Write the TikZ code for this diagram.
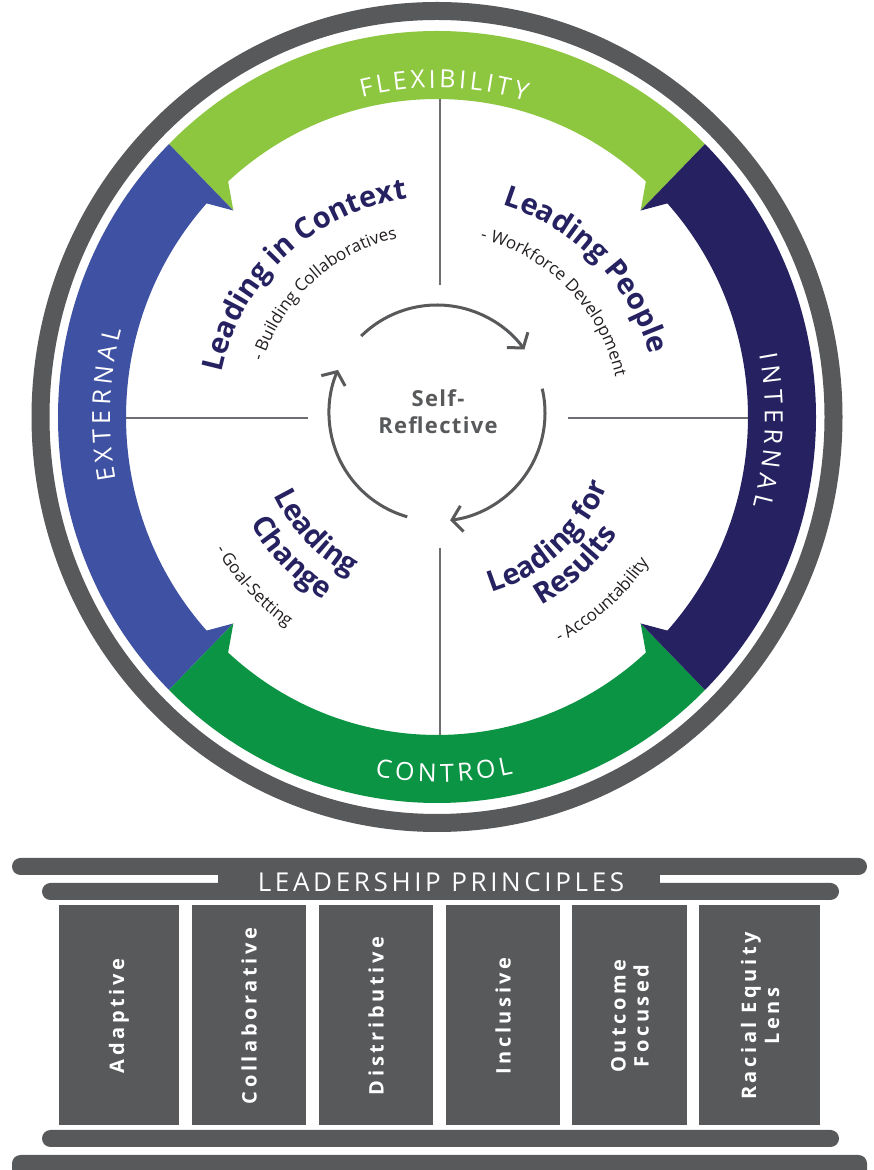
\documentclass[tikz,border=0pt]{standalone}
\usepackage{fontspec}
\setmainfont{Open Sans}
\newfontfamily\osans{Open Sans}
\newfontfamily\osanscol{Open Sans}[LetterSpace=18]
\newfontfamily\osanshead{Open Sans}[LetterSpace=14]
\newfontfamily\osansself{Open Sans}[LetterSpace=6]
\usetikzlibrary{decorations.text,arrows.meta,calc}
\definecolor{lgreen}{HTML}{8DC63F}
\definecolor{dgreen}{HTML}{0B9444}
\definecolor{mblue}{HTML}{3F51A2}
\definecolor{navy}{HTML}{262262}
\definecolor{dgrey}{HTML}{58595B}
\definecolor{lgrey}{HTML}{6D6E71}
\definecolor{subcol}{HTML}{231F20}
\newcommand\bandfont{\osans\fontsize{25}{25}\selectfont}
\newcommand\titlefont{\osans\bfseries\fontsize{29}{29}\selectfont}
\newcommand\subfont{\osans\fontsize{17}{17}\selectfont}
\newcommand{\qband}[3]{%
  \pgfmathsetmacro\qA{#1+2.8}\pgfmathsetmacro\qB{#2-2.8}%
  \fill[#3] ($(C)+(#1:379pt and 386pt)$) arc[start angle=#1,end angle=#2,x radius=379pt,y radius=386pt]
   -- ($(C)+(#2:288pt and 292pt)$) -- ($(C)+(\qB:311pt and 318pt)$)
   arc[start angle=\qB,end angle=\qA,x radius=311pt,y radius=318pt]
   -- ($(C)+(#1:288pt and 292pt)$) -- cycle;}
\tikzset{
  quadline/.style={draw=lgrey,line width=1.6pt},
  cyclearrow/.style={draw=dgrey,line width=3pt,-{Straight Barb[length=10pt,width=26pt]}},
  bar/.style={fill=dgrey,rounded corners=8.5pt},
  column/.style={fill=dgrey},
  coltext/.style={text=white,rotate=90,align=center,font=\osanscol\bfseries\fontsize{20}{23}\selectfont}
}
\begin{document}
\begin{tikzpicture}[x=1pt,y=1pt]
\useasboundingbox (0,0) rectangle (873,1170);
\clip (0,0) rectangle (873,1170);
\fill[white] (0,0) rectangle (873,1170);
\coordinate (C) at (437,753);
\coordinate (S) at (437,757);
% outer grey ring
\draw[dgrey,line width=18pt] (C) ellipse [x radius=396.5pt,y radius=406pt];
% coloured bands
\qband{45}{135}{lgreen}
\qband{135}{225}{mblue}
\qband{225}{315}{dgreen}
\qband{-45}{45}{navy}
% band labels
\path[decorate,decoration={text along path,text align=fit to path,text color=white,
  text={|\bandfont|FLEXIBILITY}}]
  ($(C)+(103.5:322pt and 329pt)$) arc[start angle=103.5,end angle=74,x radius=322pt,y radius=329pt];
\path[decorate,decoration={text along path,text align=fit to path,text color=white,
  text={|\bandfont|CONTROL}}]
  ($(C)+(260:358pt and 365pt)$) arc[start angle=260,end angle=282.3,x radius=358pt,y radius=365pt];
\path[decorate,decoration={text along path,text align=fit to path,text color=white,
  text={|\bandfont|EXTERNAL}}]
  ($(C)+(190.8:327pt and 334pt)$) arc[start angle=190.8,end angle=164.9,x radius=327pt,y radius=334pt];
\path[decorate,decoration={text along path,text align=fit to path,text color=white,
  text={|\bandfont|INTERNAL}}]
  ($(C)+(10.8:328pt and 335pt)$) arc[start angle=10.8,end angle=-15.4,x radius=328pt,y radius=335pt];
% quadrant lines
\coordinate (vt1) at (440,1071); \coordinate (vt2) at (440,885);
\coordinate (vb1) at (440,622);  \coordinate (vb2) at (440,435);
\coordinate (hl1) at (126,752);  \coordinate (hl2) at (308,752);
\coordinate (hr1) at (568,752);  \coordinate (hr2) at (748,752);
\draw[quadline] (vt1) -- (vt2);
\draw[quadline] (vb1) -- (vb2);
\draw[quadline] (hl1) -- (hl2);
\draw[quadline] (hr1) -- (hr2);
% quadrant titles
\path[decorate,decoration={text along path,text align=center,text color=navy,
  text={|\titlefont|Leading in Context}}]
  ($(C)+(193:220pt)$) arc[start angle=193,end angle=73,radius=220pt];
\path[decorate,decoration={text along path,text align=center,text color=subcol,
  text={|\subfont|- Building Collaboratives}}]
  ($(C)+(192.5:183pt)$) arc[start angle=192.5,end angle=72.5,radius=183pt];
\path[decorate,decoration={text along path,text align=center,text color=navy,
  text={|\titlefont|Leading People}}]
  ($(C)+(104.6:222pt)$) arc[start angle=104.6,end angle=-15.4,radius=222pt];
\path[decorate,decoration={text along path,text align=center,text color=subcol,
  text={|\subfont|- Workforce Development}}]
  ($(C)+(104.5:183pt)$) arc[start angle=104.5,end angle=-15.5,radius=183pt];
\path[decorate,decoration={text along path,text align=center,text color=navy,
  text={|\titlefont|Leading}}]
  ($(C)+(163.5:181pt)$) arc[start angle=163.5,end angle=283.5,radius=181pt];
\path[decorate,decoration={text along path,text align=center,text color=navy,
  text={|\titlefont|Change}}]
  ($(C)+(164:215pt)$) arc[start angle=164,end angle=284,radius=215pt];
\path[decorate,decoration={text along path,text align=center,text color=subcol,
  text={|\subfont|- Goal-Setting}}]
  ($(C)+(162.7:258pt)$) arc[start angle=162.7,end angle=282.7,radius=258pt];
\path[decorate,decoration={text along path,text align=center,text color=navy,
  text={|\titlefont|Leading for}}]
  ($(C)+(252.7:184pt)$) arc[start angle=252.7,end angle=372.7,radius=184pt];
\path[decorate,decoration={text along path,text align=center,text color=navy,
  text={|\titlefont|Results}}]
  ($(C)+(253:215pt)$) arc[start angle=253,end angle=373,radius=215pt];
\path[decorate,decoration={text along path,text align=center,text color=subcol,
  text={|\subfont|- Accountability}}]
  ($(C)+(252:257pt)$) arc[start angle=252,end angle=372,radius=257pt];
% self-reflective cycle
\draw[cyclearrow] ($(S)+(134.6:108pt)$) arc[start angle=134.6,end angle=36,radius=108pt];
\draw[cyclearrow] ($(S)+(13:108pt)$) arc[start angle=13,end angle=-83,radius=108pt];
\draw[cyclearrow] ($(S)+(-106:108pt)$) arc[start angle=-106,end angle=-203.5,radius=108pt];
\node[align=center,text=dgrey,font=\osansself\bfseries\fontsize{22}{27}\selectfont] (self) at (438,758) {Self-\\Reflective};
% leadership principles
\fill[bar] (12,295) rectangle (867,312);
\fill[bar] (42,270) rectangle (839,287);
\fill[dgrey] (218,270) rectangle (660,312);
\node[text=white,anchor=base,font=\osanshead\fontsize{26}{26}\selectfont] (lp) at (441,278) {LEADERSHIP PRINCIPLES};
\fill[column] (59,45) rectangle (179,265);
\fill[column] (192,45) rectangle (306,265);
\fill[column] (319,45) rectangle (433,265);
\fill[column] (446,45) rectangle (560,265);
\fill[column] (572,45) rectangle (687,265);
\fill[column] (699,45) rectangle (820,265);
\node[coltext] (c1) at (119,154) {Adaptive};
\node[coltext] (c2) at (249,154) {Collaborative};
\node[coltext] (c3) at (376,154) {Distributive};
\node[coltext] (c4) at (503,154) {Inclusive};
\node[coltext] (c5) at (630,154) {Outcome\\Focused};
\node[coltext] (c6) at (760,154) {Racial Equity\\Lens};
\fill[bar] (42,23) rectangle (839,40);
\fill[bar] (12,-10) rectangle (867,15);
\end{tikzpicture}
\end{document}
